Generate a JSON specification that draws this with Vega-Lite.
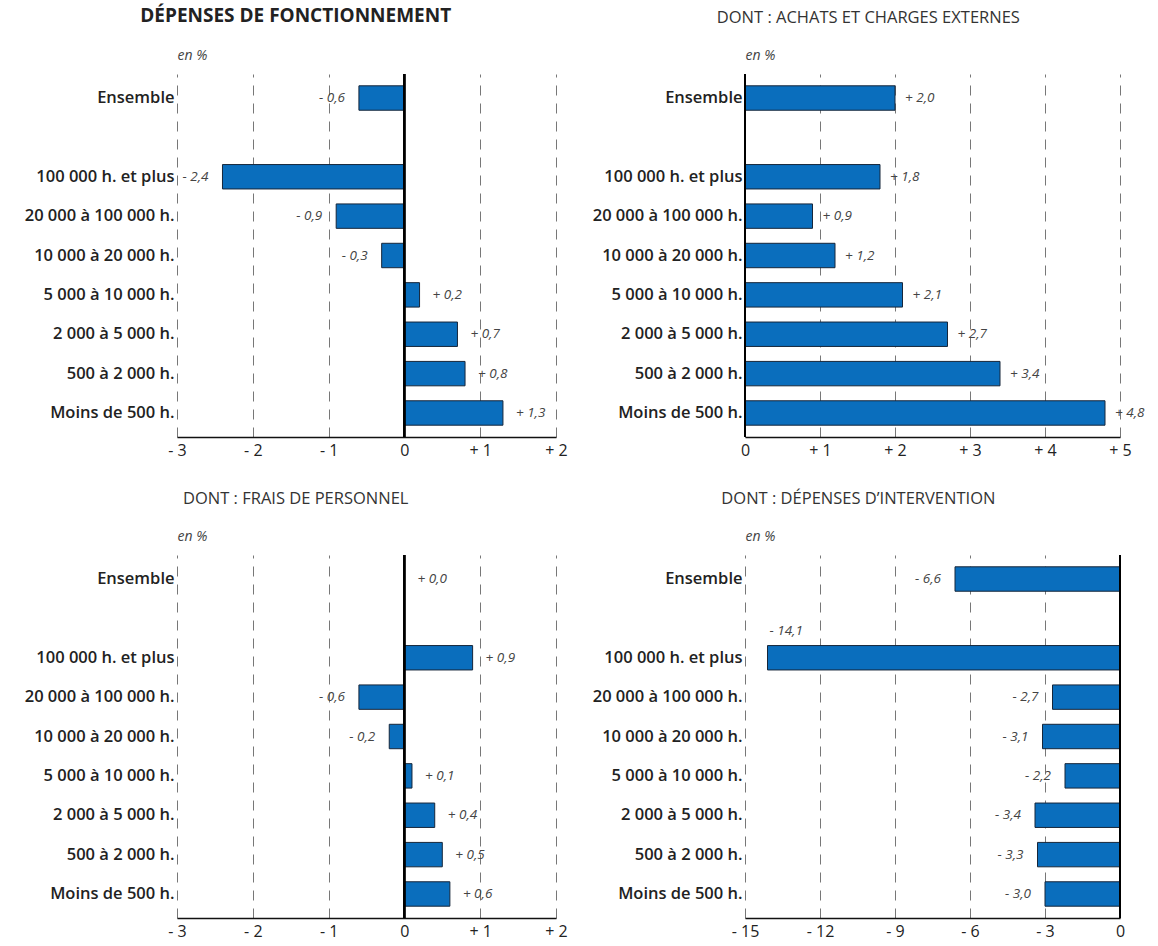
{
  "$schema": "https://vega.github.io/schema/vega-lite/v6.json",
  "background": "white",
  "padding": {"left": 24, "top": 7, "right": 4, "bottom": 2},
  "datasets": {
    "rows": [
      {"panel": "fonct", "cat": "Ensemble", "value": -0.6, "label": "- 0,6"},
      {"panel": "fonct", "cat": "100 000 h. et plus", "value": -2.4, "label": "- 2,4"},
      {"panel": "fonct", "cat": "20 000 à 100 000 h.", "value": -0.9, "label": "- 0,9"},
      {"panel": "fonct", "cat": "10 000 à 20 000 h.", "value": -0.3, "label": "- 0,3"},
      {"panel": "fonct", "cat": "5 000 à 10 000 h.", "value": 0.2, "label": "+ 0,2"},
      {"panel": "fonct", "cat": "2 000 à 5 000 h.", "value": 0.7, "label": "+ 0,7"},
      {"panel": "fonct", "cat": "500 à 2 000 h.", "value": 0.8, "label": "+ 0,8"},
      {"panel": "fonct", "cat": "Moins de 500 h.", "value": 1.3, "label": "+ 1,3"},
      {"panel": "achats", "cat": "Ensemble", "value": 2.0, "label": "+ 2,0"},
      {"panel": "achats", "cat": "100 000 h. et plus", "value": 1.8, "label": "+ 1,8"},
      {"panel": "achats", "cat": "20 000 à 100 000 h.", "value": 0.9, "label": "+ 0,9"},
      {"panel": "achats", "cat": "10 000 à 20 000 h.", "value": 1.2, "label": "+ 1,2"},
      {"panel": "achats", "cat": "5 000 à 10 000 h.", "value": 2.1, "label": "+ 2,1"},
      {"panel": "achats", "cat": "2 000 à 5 000 h.", "value": 2.7, "label": "+ 2,7"},
      {"panel": "achats", "cat": "500 à 2 000 h.", "value": 3.4, "label": "+ 3,4"},
      {"panel": "achats", "cat": "Moins de 500 h.", "value": 4.8, "label": "+ 4,8"},
      {"panel": "perso", "cat": "Ensemble", "value": 0.0, "label": "+ 0,0"},
      {"panel": "perso", "cat": "100 000 h. et plus", "value": 0.9, "label": "+ 0,9"},
      {"panel": "perso", "cat": "20 000 à 100 000 h.", "value": -0.6, "label": "- 0,6"},
      {"panel": "perso", "cat": "10 000 à 20 000 h.", "value": -0.2, "label": "- 0,2"},
      {"panel": "perso", "cat": "5 000 à 10 000 h.", "value": 0.1, "label": "+ 0,1"},
      {"panel": "perso", "cat": "2 000 à 5 000 h.", "value": 0.4, "label": "+ 0,4"},
      {"panel": "perso", "cat": "500 à 2 000 h.", "value": 0.5, "label": "+ 0,5"},
      {"panel": "perso", "cat": "Moins de 500 h.", "value": 0.6, "label": "+ 0,6"},
      {"panel": "interv", "cat": "Ensemble", "value": -6.6, "label": "- 6,6"},
      {"panel": "interv", "cat": "100 000 h. et plus", "value": -14.1, "label": "- 14,1"},
      {"panel": "interv", "cat": "20 000 à 100 000 h.", "value": -2.7, "label": "- 2,7"},
      {"panel": "interv", "cat": "10 000 à 20 000 h.", "value": -3.1, "label": "- 3,1"},
      {"panel": "interv", "cat": "5 000 à 10 000 h.", "value": -2.2, "label": "- 2,2"},
      {"panel": "interv", "cat": "2 000 à 5 000 h.", "value": -3.4, "label": "- 3,4"},
      {"panel": "interv", "cat": "500 à 2 000 h.", "value": -3.3, "label": "- 3,3"},
      {"panel": "interv", "cat": "Moins de 500 h.", "value": -3.0, "label": "- 3,0"}
    ]
  },
  "data": {"name": "rows"},
  "config": {
    "view": {"stroke": null},
    "font": "Open Sans",
    "axisX": {
      "grid": true, "gridDash": [10, 8], "gridColor": "#777", "gridWidth": 1,
      "domain": true, "domainColor": "#111", "domainWidth": 1.5,
      "ticks": false, "labelFont": "Open Sans", "labelFontSize": 16, "labelColor": "#222",
      "labelPadding": 5, "labelFlush": false
    },
    "axisY": {
      "domain": false, "ticks": false, "grid": false,
      "labelFont": "Open Sans", "labelFontWeight": 600, "labelFontSize": 16.5, "labelColor": "#222",
      "labelPadding": 3, "labelLimit": 250,
      "titleAngle": 0, "titleAlign": "left", "titleBaseline": "alphabetic", "titleX": 0, "titleY": -15,
      "titleFont": "Open Sans", "titleFontStyle": "italic", "titleFontWeight": "normal", "titleFontSize": 14, "titleColor": "#444"
    },
    "title": {"anchor": "middle", "frame": "bounds", "font": "Open Sans", "fontSize": 16.5, "fontWeight": "normal", "color": "#333", "offset": 22}
  },
  "spacing": 32,
  "vconcat": [
    {
      "spacing": 24,
      "hconcat": [
        {
          "width": 379, "height": 363,
          "title": {"text": "DÉPENSES DE FONCTIONNEMENT", "fontWeight": "bold", "fontSize": 19, "color": "#222"},
          "transform": [{"filter": "datum.panel == 'fonct'"}],
          "layer": [
            {"mark": {"type": "bar", "color": "#0a6ebd", "stroke": "#16263a", "strokeWidth": 1},
             "encoding": {
               "x": {"field": "value", "type": "quantitative", "scale": {"domain": [-3, 2], "nice": false, "zero": false}, "axis": {"title": null, "values": [-3, -2, -1, 0, 1, 2], "labelExpr": "datum.value > 0 ? '+ ' + datum.value : (datum.value < 0 ? '- ' + abs(datum.value) : '0')"}},
               "y": {"field": "cat", "type": "nominal", "scale": {"domain": ["Ensemble", "sep", "100 000 h. et plus", "20 000 à 100 000 h.", "10 000 à 20 000 h.", "5 000 à 10 000 h.", "2 000 à 5 000 h.", "500 à 2 000 h.", "Moins de 500 h."], "paddingInner": 0.38, "paddingOuter": 0.3}, "axis": {"title": "en %", "labelExpr": "datum.value == 'sep' ? '' : datum.value"}}
             }},
            {"mark": {"type": "rule", "color": "#000", "strokeWidth": 1.6},
             "encoding": {"x": {"datum": 0, "type": "quantitative", "axis": {"title": null, "values": [-3, -2, -1, 0, 1, 2], "labelExpr": "datum.value > 0 ? '+ ' + datum.value : (datum.value < 0 ? '- ' + abs(datum.value) : '0')"}}}},
            {"transform": [{"filter": "datum.value >= 0"}],
             "mark": {"type": "text", "align": "left", "baseline": "middle", "dx": 13, "fontStyle": "italic", "fontSize": 13.5, "color": "#444"},
             "encoding": {
               "x": {"field": "value", "type": "quantitative"},
               "y": {"field": "cat", "type": "nominal", "scale": {"domain": ["Ensemble", "sep", "100 000 h. et plus", "20 000 à 100 000 h.", "10 000 à 20 000 h.", "5 000 à 10 000 h.", "2 000 à 5 000 h.", "500 à 2 000 h.", "Moins de 500 h."]}, "axis": {"title": "en %", "labelExpr": "datum.value == 'sep' ? '' : datum.value"}},
               "text": {"field": "label"}
             }},
            {"transform": [{"filter": "datum.value < 0"}],
             "mark": {"type": "text", "align": "right", "baseline": "middle", "dx": -14, "fontStyle": "italic", "fontSize": 13.5, "color": "#444"},
             "encoding": {
               "x": {"field": "value", "type": "quantitative"},
               "y": {"field": "cat", "type": "nominal", "scale": {"domain": ["Ensemble", "sep", "100 000 h. et plus", "20 000 à 100 000 h.", "10 000 à 20 000 h.", "5 000 à 10 000 h.", "2 000 à 5 000 h.", "500 à 2 000 h.", "Moins de 500 h."]}, "axis": {"title": "en %", "labelExpr": "datum.value == 'sep' ? '' : datum.value"}},
               "text": {"field": "label"}
             }}
          ]
        },
        {
          "width": 375, "height": 363,
          "title": {"text": "DONT : ACHATS ET CHARGES EXTERNES"},
          "transform": [{"filter": "datum.panel == 'achats'"}],
          "layer": [
            {"mark": {"type": "bar", "color": "#0a6ebd", "stroke": "#16263a", "strokeWidth": 1},
             "encoding": {
               "x": {"field": "value", "type": "quantitative", "scale": {"domain": [0, 5], "nice": false}, "axis": {"title": null, "values": [0, 1, 2, 3, 4, 5], "labelExpr": "datum.value > 0 ? '+ ' + datum.value : (datum.value < 0 ? '- ' + abs(datum.value) : '0')"}},
               "y": {"field": "cat", "type": "nominal", "scale": {"domain": ["Ensemble", "sep", "100 000 h. et plus", "20 000 à 100 000 h.", "10 000 à 20 000 h.", "5 000 à 10 000 h.", "2 000 à 5 000 h.", "500 à 2 000 h.", "Moins de 500 h."], "paddingInner": 0.38, "paddingOuter": 0.3}, "axis": {"title": "en %", "labelExpr": "datum.value == 'sep' ? '' : datum.value"}}
             }},
            {"mark": {"type": "rule", "color": "#000", "strokeWidth": 1.6},
             "encoding": {"x": {"datum": 0, "type": "quantitative", "axis": {"title": null, "values": [0, 1, 2, 3, 4, 5], "labelExpr": "datum.value > 0 ? '+ ' + datum.value : (datum.value < 0 ? '- ' + abs(datum.value) : '0')"}}}},
            {"transform": [{"filter": "datum.value >= 0"}],
             "mark": {"type": "text", "align": "left", "baseline": "middle", "dx": 10, "fontStyle": "italic", "fontSize": 13.5, "color": "#444"},
             "encoding": {
               "x": {"field": "value", "type": "quantitative"},
               "y": {"field": "cat", "type": "nominal", "scale": {"domain": ["Ensemble", "sep", "100 000 h. et plus", "20 000 à 100 000 h.", "10 000 à 20 000 h.", "5 000 à 10 000 h.", "2 000 à 5 000 h.", "500 à 2 000 h.", "Moins de 500 h."]}, "axis": {"title": "en %", "labelExpr": "datum.value == 'sep' ? '' : datum.value"}},
               "text": {"field": "label"}
             }}
          ]
        }
      ]
    },
    {
      "spacing": 24,
      "hconcat": [
        {
          "width": 379, "height": 363,
          "title": {"text": "DONT : FRAIS DE PERSONNEL"},
          "transform": [{"filter": "datum.panel == 'perso'"}],
          "layer": [
            {"mark": {"type": "bar", "color": "#0a6ebd", "stroke": "#16263a", "strokeWidth": 1},
             "encoding": {
               "x": {"field": "value", "type": "quantitative", "scale": {"domain": [-3, 2], "nice": false, "zero": false}, "axis": {"title": null, "values": [-3, -2, -1, 0, 1, 2], "labelExpr": "datum.value > 0 ? '+ ' + datum.value : (datum.value < 0 ? '- ' + abs(datum.value) : '0')"}},
               "y": {"field": "cat", "type": "nominal", "scale": {"domain": ["Ensemble", "sep", "100 000 h. et plus", "20 000 à 100 000 h.", "10 000 à 20 000 h.", "5 000 à 10 000 h.", "2 000 à 5 000 h.", "500 à 2 000 h.", "Moins de 500 h."], "paddingInner": 0.38, "paddingOuter": 0.3}, "axis": {"title": "en %", "labelExpr": "datum.value == 'sep' ? '' : datum.value"}}
             }},
            {"mark": {"type": "rule", "color": "#000", "strokeWidth": 1.6},
             "encoding": {"x": {"datum": 0, "type": "quantitative", "axis": {"title": null, "values": [-3, -2, -1, 0, 1, 2], "labelExpr": "datum.value > 0 ? '+ ' + datum.value : (datum.value < 0 ? '- ' + abs(datum.value) : '0')"}}}},
            {"transform": [{"filter": "datum.value >= 0"}],
             "mark": {"type": "text", "align": "left", "baseline": "middle", "dx": 13, "fontStyle": "italic", "fontSize": 13.5, "color": "#444"},
             "encoding": {
               "x": {"field": "value", "type": "quantitative"},
               "y": {"field": "cat", "type": "nominal", "scale": {"domain": ["Ensemble", "sep", "100 000 h. et plus", "20 000 à 100 000 h.", "10 000 à 20 000 h.", "5 000 à 10 000 h.", "2 000 à 5 000 h.", "500 à 2 000 h.", "Moins de 500 h."]}, "axis": {"title": "en %", "labelExpr": "datum.value == 'sep' ? '' : datum.value"}},
               "text": {"field": "label"}
             }},
            {"transform": [{"filter": "datum.value < 0"}],
             "mark": {"type": "text", "align": "right", "baseline": "middle", "dx": -14, "fontStyle": "italic", "fontSize": 13.5, "color": "#444"},
             "encoding": {
               "x": {"field": "value", "type": "quantitative"},
               "y": {"field": "cat", "type": "nominal", "scale": {"domain": ["Ensemble", "sep", "100 000 h. et plus", "20 000 à 100 000 h.", "10 000 à 20 000 h.", "5 000 à 10 000 h.", "2 000 à 5 000 h.", "500 à 2 000 h.", "Moins de 500 h."]}, "axis": {"title": "en %", "labelExpr": "datum.value == 'sep' ? '' : datum.value"}},
               "text": {"field": "label"}
             }}
          ]
        },
        {
          "width": 375, "height": 363,
          "title": {"text": "DONT : DÉPENSES D’INTERVENTION"},
          "transform": [{"filter": "datum.panel == 'interv'"}],
          "layer": [
            {"mark": {"type": "bar", "color": "#0a6ebd", "stroke": "#16263a", "strokeWidth": 1},
             "encoding": {
               "x": {"field": "value", "type": "quantitative", "scale": {"domain": [-15, 0], "nice": false}, "axis": {"title": null, "values": [-15, -12, -9, -6, -3, 0], "labelExpr": "datum.value > 0 ? '+ ' + datum.value : (datum.value < 0 ? '- ' + abs(datum.value) : '0')"}},
               "y": {"field": "cat", "type": "nominal", "scale": {"domain": ["Ensemble", "sep", "100 000 h. et plus", "20 000 à 100 000 h.", "10 000 à 20 000 h.", "5 000 à 10 000 h.", "2 000 à 5 000 h.", "500 à 2 000 h.", "Moins de 500 h."], "paddingInner": 0.38, "paddingOuter": 0.3}, "axis": {"title": "en %", "labelExpr": "datum.value == 'sep' ? '' : datum.value"}}
             }},
            {"mark": {"type": "rule", "color": "#000", "strokeWidth": 1.6},
             "encoding": {"x": {"datum": 0, "type": "quantitative", "axis": {"title": null, "values": [-15, -12, -9, -6, -3, 0], "labelExpr": "datum.value > 0 ? '+ ' + datum.value : (datum.value < 0 ? '- ' + abs(datum.value) : '0')"}}}},
            {"transform": [{"filter": "datum.value < 0 && datum.value > -10"}],
             "mark": {"type": "text", "align": "right", "baseline": "middle", "dx": -14, "fontStyle": "italic", "fontSize": 13.5, "color": "#444"},
             "encoding": {
               "x": {"field": "value", "type": "quantitative"},
               "y": {"field": "cat", "type": "nominal", "scale": {"domain": ["Ensemble", "sep", "100 000 h. et plus", "20 000 à 100 000 h.", "10 000 à 20 000 h.", "5 000 à 10 000 h.", "2 000 à 5 000 h.", "500 à 2 000 h.", "Moins de 500 h."]}, "axis": {"title": "en %", "labelExpr": "datum.value == 'sep' ? '' : datum.value"}},
               "text": {"field": "label"}
             }},
            {"transform": [{"filter": "datum.value <= -10"}],
             "mark": {"type": "text", "align": "left", "baseline": "middle", "dx": 2, "dy": -27, "fontStyle": "italic", "fontSize": 13.5, "color": "#444"},
             "encoding": {
               "x": {"field": "value", "type": "quantitative"},
               "y": {"field": "cat", "type": "nominal", "scale": {"domain": ["Ensemble", "sep", "100 000 h. et plus", "20 000 à 100 000 h.", "10 000 à 20 000 h.", "5 000 à 10 000 h.", "2 000 à 5 000 h.", "500 à 2 000 h.", "Moins de 500 h."]}, "axis": {"title": "en %", "labelExpr": "datum.value == 'sep' ? '' : datum.value"}},
               "text": {"field": "label"}
             }}
          ]
        }
      ]
    }
  ]
}
